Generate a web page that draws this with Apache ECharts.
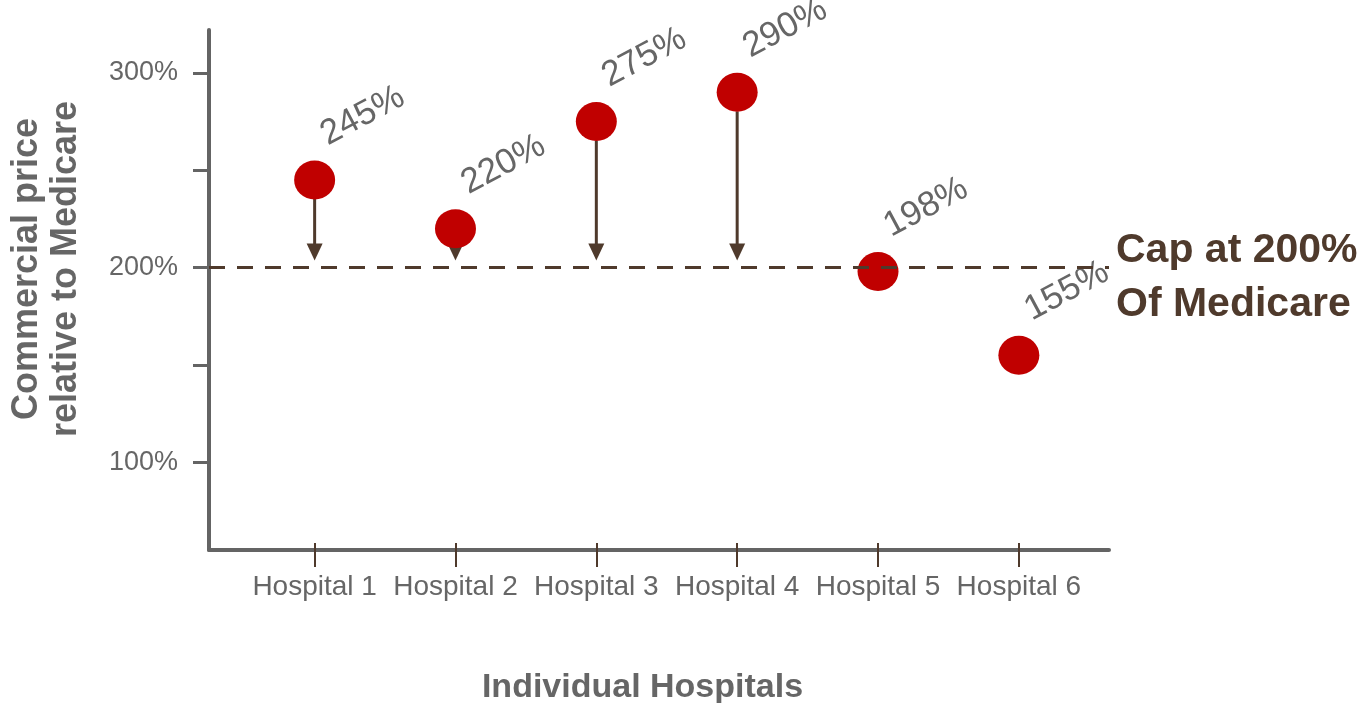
<!DOCTYPE html>
<html>
<head>
<meta charset="utf-8">
<title>Commercial price relative to Medicare</title>
<script src="https://cdn.jsdelivr.net/npm/echarts@6/dist/echarts.min.js"></script>
<style>
  html, body { margin: 0; padding: 0; background: #ffffff; }
  #chart { width: 1369px; height: 703px; }
</style>
</head>
<body>
<div id="chart"></div>
<script>
// Hospitals along the x axis (placed at positions 1..n)
const categories = ['Hospital 1', 'Hospital 2', 'Hospital 3', 'Hospital 4', 'Hospital 5', 'Hospital 6'];
// Commercial price as a percent of Medicare
const prices = [245, 220, 275, 290, 198, 155];
// Proposed cap (percent of Medicare)
const capValue = 200;
const capText = ['Cap at 200%', 'Of Medicare'];
// Y axis ticks and labelled values
const yTickValues = [100, 150, 200, 250, 300];
const yLabelValues = [100, 200, 300];
const xPositions = categories.map((_, i) => i + 1);

const FONT = '"Liberation Sans", Arial, Helvetica, sans-serif';
const GREY = '#666666';
const AXIS = '#646464';
const BROWN = '#4f3a2c';
const RED = '#c00000';

const pointData = prices.map((v, i) => [xPositions[i], v]);
const arrowData = pointData.filter(d => d[1] > capValue);

// value labels sit up and to the right of each dot, tilted 28 degrees;
// label offsets are applied in the rotated frame, so convert a screen offset
const LABEL_ROT = 28;
const screenOffset = [48, -64];
const rad = LABEL_ROT * Math.PI / 180;
const labelOffset = [
  screenOffset[0] * Math.cos(rad) - screenOffset[1] * Math.sin(rad),
  screenOffset[0] * Math.sin(rad) + screenOffset[1] * Math.cos(rad)
];

const chart = echarts.init(document.getElementById('chart'), null, { renderer: 'canvas' });

chart.setOption({
  animation: false,
  backgroundColor: '#ffffff',
  grid: {
    left: 209, right: 260, top: 30, bottom: 153,
    containLabel: false, outerBoundsMode: 'none'
  },
  xAxis: [
    {
      type: 'value',
      min: 0.25,
      max: 6.64,
      splitLine: { show: false },
      axisLine: { show: true, lineStyle: { color: AXIS, width: 4 } },
      axisTick: {
        show: true, customValues: xPositions, length: 17,
        lineStyle: { color: BROWN, width: 2 }
      },
      axisLabel: {
        show: true, customValues: xPositions, margin: 23,
        formatter: v => categories[Math.round(v) - 1] || '',
        fontFamily: FONT, fontSize: 28, color: GREY
      },
      name: 'Individual Hospitals',
      nameLocation: 'middle',
      nameGap: 121,
      nameTextStyle: {
        fontFamily: FONT, fontSize: 34, fontWeight: 'bold', color: GREY,
        padding: [0, 33, 0, 0]
      }
    },
    {
      // short tick stubs rising above the baseline
      type: 'value',
      position: 'bottom',
      min: 0.25,
      max: 6.64,
      splitLine: { show: false },
      axisLine: { show: false },
      axisLabel: { show: false },
      axisTick: {
        show: true, inside: true, customValues: xPositions, length: 7,
        lineStyle: { color: BROWN, width: 2 }
      }
    }
  ],
  yAxis: {
    type: 'value',
    min: 55,
    max: 322,
    splitLine: { show: false },
    axisLine: { show: true, lineStyle: { color: AXIS, width: 4 } },
    axisTick: {
      show: true, customValues: yTickValues, length: 16,
      lineStyle: { color: AXIS, width: 3 }
    },
    axisLabel: {
      show: true, customValues: yLabelValues, margin: 31,
      formatter: v => v + '%',
      fontFamily: FONT, fontSize: 27, color: GREY
    },
    name: 'Commercial price\nrelative to Medicare',
    nameLocation: 'middle',
    nameRotate: 90,
    nameGap: 123,
    nameTextStyle: {
      fontFamily: FONT, fontSize: 36, fontWeight: 'bold', color: GREY,
      lineHeight: 39, align: 'center',
      padding: [0, 0, 0, 42]
    }
  },
  series: [
    {
      // arrows pulling prices down to the cap
      type: 'custom',
      z: 2,
      silent: true,
      data: arrowData,
      renderItem: function (params, api) {
        const top = api.coord([api.value(0), api.value(1)]);
        const cap = api.coord([api.value(0), capValue]);
        const x = top[0];
        const y0 = top[1] + 19;
        const tip = cap[1] - 7;
        const headH = 17, headW = 8;
        return {
          type: 'group',
          children: [
            {
              type: 'line',
              shape: { x1: x, y1: y0, x2: x, y2: tip - headH + 2 },
              style: { stroke: BROWN, lineWidth: 3 }
            },
            {
              type: 'polygon',
              shape: { points: [[x - headW, tip - headH], [x + headW, tip - headH], [x, tip]] },
              style: { fill: BROWN }
            }
          ]
        };
      }
    },
    {
      type: 'scatter',
      z: 3,
      data: pointData,
      symbol: 'circle',
      symbolSize: [41, 39],
      itemStyle: { color: RED, opacity: 1 },
      label: {
        show: true,
        formatter: p => p.value[1] + '%',
        position: 'inside',
        offset: labelOffset,
        rotate: LABEL_ROT,
        align: 'center',
        verticalAlign: 'middle',
        fontFamily: FONT,
        fontSize: 35,
        color: GREY
      },
      markLine: {
        silent: true,
        symbol: ['none', 'none'],
        animation: false,
        lineStyle: { color: BROWN, width: 3, type: [16, 12] },
        label: {
          show: true,
          position: 'end',
          distance: 7,
          offset: [0, 10],
          formatter: capText.join('\n'),
          fontFamily: FONT,
          fontSize: 41,
          fontWeight: 'bold',
          lineHeight: 54,
          color: BROWN
        },
        data: [{ yAxis: capValue }]
      }
    }
  ]
});
</script>
</body>
</html>
